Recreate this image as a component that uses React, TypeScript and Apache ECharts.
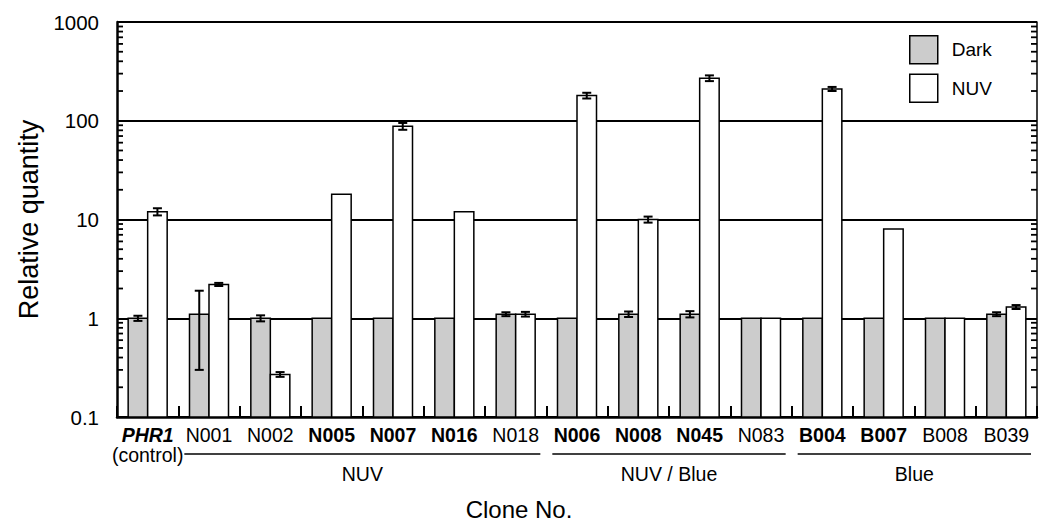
import React, { useEffect, useRef } from 'react';
import * as echarts from 'echarts';

const categories = ['PHR1', 'N001', 'N002', 'N005', 'N007', 'N016', 'N018', 'N006', 'N008', 'N045', 'N083', 'B004', 'B007', 'B008', 'B039'];
const labelStyles = ['bi', 'n', 'n', 'b', 'b', 'b', 'n', 'b', 'b', 'b', 'n', 'b', 'b', 'n', 'n'];
const subLabels = ['(control)', '', '', '', '', '', '', '', '', '', '', '', '', '', ''];
const darkValues = [1.0, 1.1, 1.0, 1, 1, 1, 1.1, 1, 1.1, 1.1, 1, 1, 1, 1, 1.1];
const nuvValues = [12, 2.2, 0.27, 18, 88, 12, 1.1, 180, 10, 270, 1, 210, 8, 1, 1.3];
const darkErrors = [0.06, 0.8, 0.07, null, null, null, 0.05, null, 0.07, 0.08, null, null, null, null, 0.05];
const nuvErrors = [1.0, 0.08, 0.015, null, 7, null, 0.06, 12, 0.7, 18, null, 10, null, null, 0.06];
const yTickLabels = ['0.1', '1', '10', '100', '1000'];
const minorTickValues = [
  0.2, 0.3, 0.4, 0.5, 0.6, 0.7, 0.8, 0.9,
  2, 3, 4, 5, 6, 7, 8, 9,
  20, 30, 40, 50, 60, 70, 80, 90,
  200, 300, 400, 500, 600, 700, 800, 900,
];
const groups = [
  { label: 'NUV', from: 'N001', to: 'N018' },
  { label: 'NUV / Blue', from: 'N006', to: 'N083' },
  { label: 'Blue', from: 'B004', to: 'B039' },
];
const seriesNames = ['Dark', 'NUV'];

const Y_MIN = 0.1;
const Y_MAX = 1000;
const FONT = '"Liberation Sans", Arial, Helvetica, sans-serif';
const DARK_FILL = '#cccccc';
const NUV_FILL = '#ffffff';
const BAR_FRAC = 0.318;

function barRenderer(side: number, fill: string) {
  return (params: any, api: any) => {
    const cat = api.value(0);
    const v = api.value(1);
    const top = api.coord([cat, v]);
    const base = api.coord([cat, Y_MIN]);
    const band = params.coordSys.width / categories.length;
    const bw = band * BAR_FRAC;
    const x = side < 0 ? top[0] - bw : top[0];
    return {
      type: 'rect',
      shape: { x, y: top[1], width: bw, height: base[1] - top[1] },
      style: { fill, stroke: '#000', lineWidth: 1.5 },
    };
  };
}

function errRenderer(params: any, api: any) {
  const cat = api.value(0);
  const lo = api.value(1);
  const hi = api.value(2);
  const side = api.value(3);
  const band = params.coordSys.width / categories.length;
  const bw = band * BAR_FRAC;
  const pLo = api.coord([cat, lo]);
  const pHi = api.coord([cat, hi]);
  const x = pLo[0] + side * bw / 2;
  const cap = 4.5;
  const st = { stroke: '#000', lineWidth: 2 };
  return {
    type: 'group',
    children: [
      { type: 'line', shape: { x1: x, y1: pLo[1], x2: x, y2: pHi[1] }, style: st },
      { type: 'line', shape: { x1: x - cap, y1: pLo[1], x2: x + cap, y2: pLo[1] }, style: st },
      { type: 'line', shape: { x1: x - cap, y1: pHi[1], x2: x + cap, y2: pHi[1] }, style: st },
    ],
  };
}

function minorTickRenderer(params: any, api: any) {
  const v = api.value(1);
  const p = api.coord([0, v]);
  const cs = params.coordSys;
  const len = 6;
  const st = { stroke: '#000', lineWidth: 1.8 };
  return {
    type: 'group',
    children: [
      { type: 'line', shape: { x1: cs.x, y1: p[1], x2: cs.x + len, y2: p[1] }, style: st },
      { type: 'line', shape: { x1: cs.x + cs.width - len, y1: p[1], x2: cs.x + cs.width, y2: p[1] }, style: st },
    ],
  };
}

export default function App() {
  const ref = useRef<HTMLDivElement>(null);

  useEffect(() => {
    if (!ref.current) return;
    const chart = echarts.init(ref.current, undefined, { renderer: 'svg' });

    const darkData = darkValues.map((v, i) => [i, v]);
    const nuvData = nuvValues.map((v, i) => [i, v]);
    const errData: any[] = [];
    darkErrors.forEach((e, i) => {
      if (e != null) errData.push([i, darkValues[i] - e, darkValues[i] + e, -1]);
    });
    nuvErrors.forEach((e, i) => {
      if (e != null) errData.push([i, nuvValues[i] - e, nuvValues[i] + e, 1]);
    });
    const minorData = minorTickValues.map((v) => [0, v]);

    const logAxisBase = {
      type: 'log',
      logBase: 10,
      min: Y_MIN,
      max: Y_MAX,
      splitNumber: 4,
    };

    chart.setOption({
      animation: false,
      backgroundColor: '#ffffff',
      textStyle: { fontFamily: FONT, color: '#000' },
      grid: { left: 117, right: 2, top: 22, bottom: 105, containLabel: false },
      legend: {
        orient: 'vertical',
        left: 904,
        top: 30,
        itemWidth: 28,
        itemHeight: 28,
        itemGap: 9,
        selectedMode: false,
        textStyle: { fontSize: 19, fontFamily: FONT, color: '#000', padding: [0, 0, 0, 9] },
        data: [
          { name: seriesNames[0], icon: 'rect', itemStyle: { color: DARK_FILL, borderColor: '#000', borderWidth: 1.5 } },
          { name: seriesNames[1], icon: 'rect', itemStyle: { color: NUV_FILL, borderColor: '#000', borderWidth: 1.5 } },
        ],
      },
      xAxis: {
        type: 'category',
        data: categories,
        boundaryGap: true,
        axisLine: { show: true, lineStyle: { color: '#000', width: 2.5 } },
        axisTick: { show: true, inside: true, length: 11, interval: 0, lineStyle: { color: '#000', width: 2 } },
        axisLabel: {
          interval: 0,
          margin: 8,
          formatter: (val: string, idx: number) => {
            const s = labelStyles[idx] || 'n';
            const sub = subLabels[idx];
            return sub ? `{${s}|${val}}\n{n|${sub}}` : `{${s}|${val}}`;
          },
          rich: {
            n: { fontSize: 19.5, fontFamily: FONT, color: '#000', lineHeight: 20 },
            b: { fontSize: 19.5, fontFamily: FONT, color: '#000', fontWeight: 'bold', lineHeight: 20 },
            bi: { fontSize: 19.5, fontFamily: FONT, color: '#000', fontWeight: 'bold', fontStyle: 'italic', lineHeight: 20 },
          },
        },
        splitLine: { show: false },
      },
      yAxis: [
        {
          ...logAxisBase,
          position: 'left',
          name: 'Relative quantity',
          nameLocation: 'middle',
          nameGap: 74,
          nameTextStyle: { fontSize: 27, fontFamily: FONT, color: '#000' },
          axisLine: { show: true, lineStyle: { color: '#000', width: 2.5 } },
          axisTick: { show: true, inside: true, length: 8, lineStyle: { color: '#000', width: 2 } },
          axisLabel: {
            margin: 18,
            fontSize: 20.5,
            fontFamily: FONT,
            color: '#000',
            formatter: (v: number) => {
              const k = Math.round(Math.log10(v)) + 1;
              return yTickLabels[k] ?? String(v);
            },
          },
          splitLine: { show: true, lineStyle: { color: '#000', width: 2 } },
        },
        {
          ...logAxisBase,
          position: 'right',
          axisLine: { show: true, lineStyle: { color: '#000', width: 1.5 } },
          axisTick: { show: false },
          axisLabel: { show: false },
          splitLine: { show: false },
        },
      ],
      series: [
        {
          name: seriesNames[0],
          type: 'custom',
          renderItem: barRenderer(-1, DARK_FILL),
          data: darkData,
          itemStyle: { color: DARK_FILL, borderColor: '#000' },
          encode: { x: 0, y: 1 },
          z: 3,
        },
        {
          name: seriesNames[1],
          type: 'custom',
          renderItem: barRenderer(1, NUV_FILL),
          data: nuvData,
          itemStyle: { color: NUV_FILL, borderColor: '#000' },
          encode: { x: 0, y: 1 },
          z: 3,
        },
        {
          name: 'err',
          type: 'custom',
          renderItem: errRenderer,
          data: errData,
          encode: { x: 0, y: [1, 2] },
          silent: true,
          z: 4,
        },
        {
          name: 'minor',
          type: 'custom',
          renderItem: minorTickRenderer,
          data: minorData,
          encode: { x: 0, y: 1 },
          silent: true,
          clip: false,
          z: 5,
        },
      ],
    });

    // group annotations below the category labels
    const cx = (name: string) => chart.convertToPixel({ xAxisIndex: 0 }, name) as number;
    const band = cx(categories[1]) - cx(categories[0]);
    const graphics: any[] = [];
    const lineY = 454;
    groups.forEach((g) => {
      const x1 = cx(g.from) - band / 2 + 6;
      const x2 = cx(g.to) + band / 2 - 6;
      graphics.push({
        type: 'line',
        shape: { x1, y1: lineY, x2, y2: lineY },
        style: { stroke: '#000', lineWidth: 1.5 },
      });
      graphics.push({
        type: 'text',
        x: (x1 + x2) / 2,
        y: 474,
        style: { text: g.label, fontSize: 19.5, fontFamily: FONT, fill: '#000', textAlign: 'center', textVerticalAlign: 'middle' },
      });
    });
    graphics.push({
      type: 'text',
      x: 519,
      y: 509,
      style: { text: 'Clone No.', fontSize: 24, fontFamily: FONT, fill: '#000', textAlign: 'center', textVerticalAlign: 'middle' },
    });
    chart.setOption({ graphic: graphics });

    return () => chart.dispose();
  }, []);

  return (
    <div
      ref={ref}
      style={{ position: 'fixed', left: 0, top: 0, width: 1039, height: 522, background: '#fff' }}
    />
  );
}
